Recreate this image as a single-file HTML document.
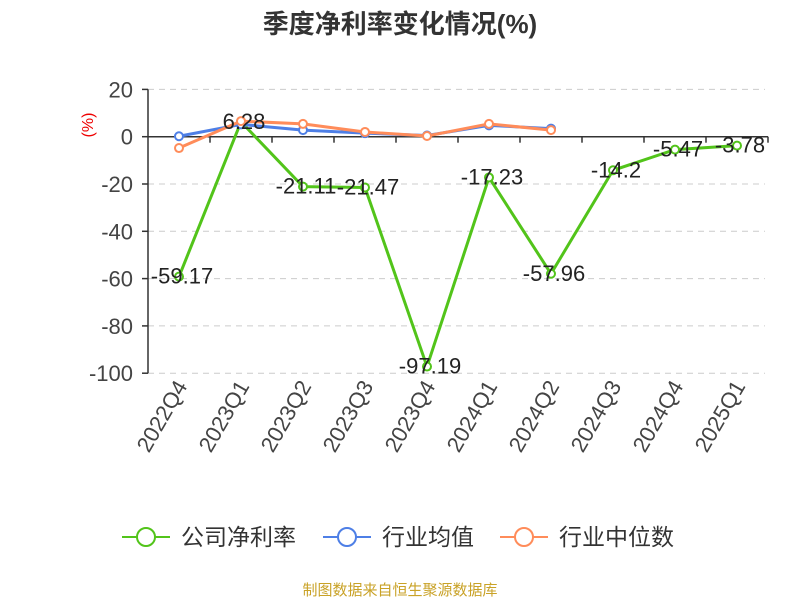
<!DOCTYPE html>
<html><head><meta charset="utf-8"><style>
body{margin:0;background:#fff;font-family:"Liberation Sans","Noto Sans CJK SC",sans-serif;}
</style></head><body>
<svg width="800" height="600" xmlns="http://www.w3.org/2000/svg" font-family="Liberation Sans, Noto Sans CJK SC, sans-serif">
<text x="400" y="33" text-anchor="middle" font-size="26" font-weight="bold" fill="#333">季度净利率变化情况(%)</text>
<text transform="translate(93,125) rotate(-90)" text-anchor="middle" font-size="16" fill="#e00">(%)</text>
<g id="grid"></g><g id="axes"></g><g id="series"></g><g id="labels"></g>
<g>
<g><line x1="122" y1="537" x2="170" y2="537" stroke="#52c41a" stroke-width="2"/><circle cx="146" cy="537" r="9" fill="#fff" stroke="#52c41a" stroke-width="2"/><text x="181" y="545" font-size="23" fill="#333">公司净利率</text></g>
<g><line x1="323" y1="537" x2="371" y2="537" stroke="#4e7fe6" stroke-width="2"/><circle cx="347" cy="537" r="9" fill="#fff" stroke="#4e7fe6" stroke-width="2"/><text x="382" y="545" font-size="23" fill="#333">行业均值</text></g>
<g><line x1="500" y1="537" x2="548" y2="537" stroke="#ff8c5a" stroke-width="2"/><circle cx="524" cy="537" r="9" fill="#fff" stroke="#ff8c5a" stroke-width="2"/><text x="559" y="545" font-size="23" fill="#333">行业中位数</text></g>
</g>
<text x="400" y="595" text-anchor="middle" font-size="15" fill="#c9a227">制图数据来自恒生聚源数据库</text>
</svg>
<script>
const categories=["2022Q4","2023Q1","2023Q2","2023Q3","2023Q4","2024Q1","2024Q2","2024Q3","2024Q4","2025Q1"];
const company=[-59.17,6.28,-21.11,-21.47,-97.19,-17.23,-57.96,-14.2,-5.47,-3.78];
const industryAvg=[0.2,5.2,2.8,1.5,0.5,4.8,3.4];
const industryMedian=[-4.8,6.6,5.4,2,0.3,5.4,2.8];
const yTicks=[20,0,-20,-40,-60,-80,-100];
const NS="http://www.w3.org/2000/svg";
const x0=148,band=62;
function xs(i){return x0+band*(i+0.5);}
function ys(v){return 136.7-v*(47.3/20);}
function mk(t,a,p){const e=document.createElementNS(NS,t);for(const k in a)e.setAttribute(k,a[k]);p.appendChild(e);return e;}
const grid=document.getElementById('grid'),axes=document.getElementById('axes');
yTicks.forEach(v=>{
 if(v!==0){const l=mk('line',{x1:x0,x2:765,y1:ys(v),y2:ys(v),stroke:'#ccc','stroke-dasharray':'6,5'},grid);
 
 }
 const t=mk('text',{x:133,y:ys(v)+8,'text-anchor':'end','font-size':22,fill:'#444'},axes);t.textContent=v;
 
 
 mk('line',{x1:x0-6,x2:x0,y1:ys(v),y2:ys(v),stroke:'#333','stroke-width':1.5},axes);
});
const ya=mk('line',{x1:x0,x2:x0,y1:ys(20),y2:ys(-100),stroke:'#333','stroke-width':1.5},axes);


const xa=mk('line',{x1:x0,x2:768,y1:ys(0),y2:ys(0),stroke:'#333','stroke-width':1.5},axes);


categories.forEach((c,i)=>{
 mk('line',{x1:x0+band*(i+1),x2:x0+band*(i+1),y1:ys(0),y2:ys(0)+6,stroke:'#333','stroke-width':1.5},axes);
 const t=mk('text',{x:0,y:0,'text-anchor':'end','font-size':22,fill:'#444',transform:`translate(${xs(i)+9},${386}) rotate(-60)`},axes);t.textContent=c;
 
 
});
const ser=document.getElementById('series');
function draw(d,col,name){
 const g=mk('g',{},ser);
 
 
 mk('polyline',{points:d.map((v,i)=>xs(i)+','+ys(v)).join(' '),fill:'none',stroke:col,'stroke-width':3},g);
 d.forEach((v,i)=>{const c=mk('circle',{cx:xs(i),cy:ys(v),r:4,fill:'#fff',stroke:col,'stroke-width':2},g);
 
 });
}
draw(company,'#52c41a','company-net-margin-line');
draw(industryAvg,'#4e7fe6','industry-average-line');
draw(industryMedian,'#ff8c5a','industry-median-line');
const lab=document.getElementById('labels');
company.forEach((v,i)=>{const t=mk('text',{x:xs(i)+3,y:ys(v)+7,'text-anchor':'middle','font-size':22,fill:'#222'},lab);t.textContent=v;
 
 });
</script>
</body></html>
